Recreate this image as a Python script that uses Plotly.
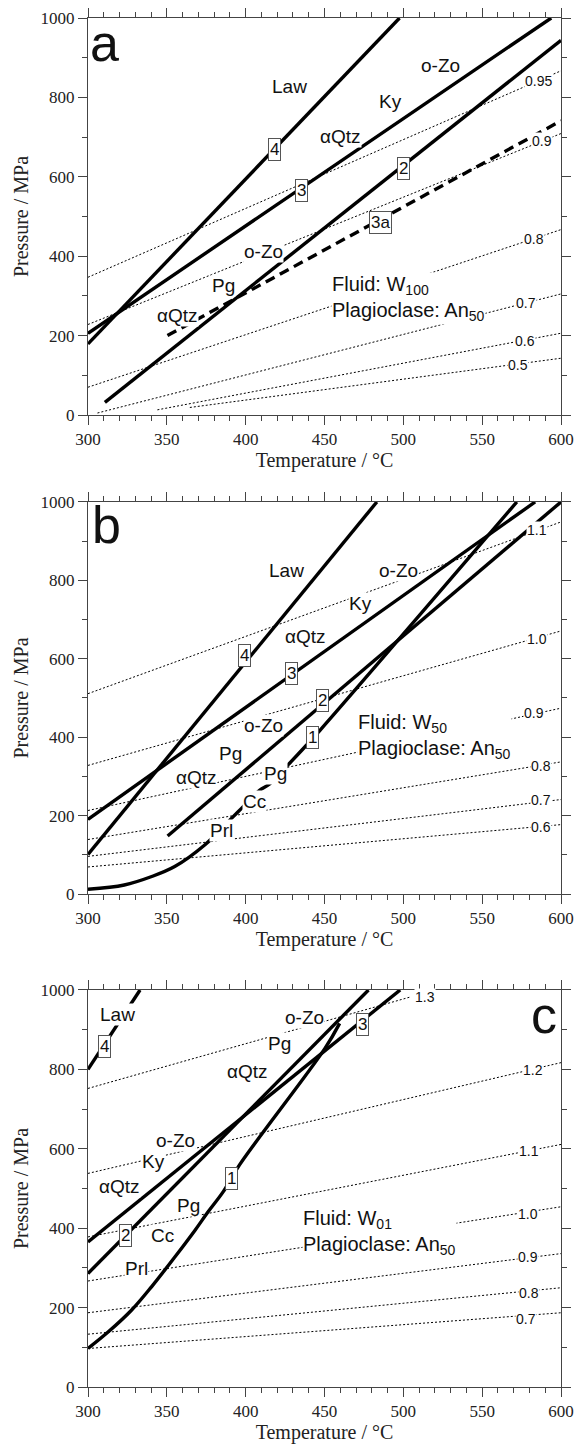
import plotly.graph_objects as go

# ---------------- Panel a (Fluid W100) ----------------
a_r4_T = [300, 497.6];  a_r4_P = [179, 1000]
a_r3_T = [300, 593.8];  a_r3_P = [206, 1000]
a_r2_T = [310.7, 600];  a_r2_P = [32, 944]
a_r3a_T = [350.4, 600]; a_r3a_P = [200, 741]
a_iso_vals = ["0.95", "0.9", "0.8", "0.7", "0.6", "0.5"]
a_iso_T0 = [300, 300, 300, 306, 344, 364.6]
a_iso_P0 = [347, 228, 70, 5, 13, 19]
a_iso_T1 = [600, 600, 600, 600, 600, 600]
a_iso_P1 = [867, 709, 467, 305, 206, 143]
a_iso_lab_T = [586, 588, 583, 578, 577, 573]
a_iso_lab_P = [842, 690, 443, 281, 186, 127]

# ---------------- Panel b (Fluid W50) ----------------
b_r4_T = [300, 483.2];  b_r4_P = [101, 1000]
b_r3_T = [300, 583.6];  b_r3_P = [190.5, 1000]
b_r2_T = [350.5, 600];  b_r2_P = [148, 1000]
b_r1_T = [300, 323, 340, 355, 374, 391, 397.5, 409, 415, 427, 437.5, 447, 572]
b_r1_P = [12, 23, 44, 70, 125, 193, 219, 265, 280, 330, 375, 417, 1000]
b_iso_vals = ["1.1", "1.0", "0.9", "0.8", "0.7", "0.6"]
b_iso_T0 = [300, 300, 300, 300, 300, 300]
b_iso_P0 = [511, 328, 213, 139, 96, 69]
b_iso_T1 = [600, 600, 600, 600, 600, 600]
b_iso_P1 = [949, 671, 474, 337, 241, 177]
b_iso_lab_T = [585, 585, 583, 587, 587, 587]
b_iso_lab_P = [928, 651, 462, 326, 239, 170]

# ---------------- Panel c (Fluid W01) ----------------
c_r4_T = [300, 333];    c_r4_P = [800, 1000]
c_r3_T = [300, 498];    c_r3_P = [365.5, 1000]
c_r2_T = [300, 477.9];  c_r2_P = [286, 1000]
c_r1_T = [300, 312.9, 327.7, 340.4, 355.2, 367.9, 376.3, 385.8, 396, 450.3, 459.6]
c_r1_P = [97, 139, 194, 253, 328, 395, 442, 492, 559, 853, 916]
c_iso_vals = ["1.3", "1.2", "1.1", "1.0", "0.9", "0.8", "0.7"]
c_iso_T0 = [300, 300, 300, 300, 300, 300, 300]
c_iso_P0 = [752, 538, 378, 267, 187, 133, 97]
c_iso_T1 = [505, 600, 600, 600, 600, 600, 600]
c_iso_P1 = [983, 817, 611, 454, 336, 250, 187]
c_iso_lab_T = [514, 582, 580, 579, 579, 580, 578]
c_iso_lab_P = [982, 798, 595, 437, 328, 237, 172]

# ---------------- Text labels (text, T, P) ----------------
a_labels = [("Law", 427.6, 828), ("o-Zo", 523.3, 881), ("Ky", 491.7, 789),
            ("αQtz", 460.3, 702), ("o-Zo", 411.4, 413), ("Pg", 386, 326),
            ("αQtz", 356.8, 251)]
a_boxes = [("4", 418, 669), ("3", 435.2, 566), ("2", 500, 621), ("3a", 485.7, 484)]
a_fluid = "Fluid: W<sub>100</sub><br>Plagioclase: An<sub>50</sub>"

b_labels = [("Law", 425.6, 826), ("o-Zo", 497, 826), ("Ky", 472.8, 741),
            ("αQtz", 438, 656), ("o-Zo", 411.3, 430), ("Pg", 390.3, 358),
            ("αQtz", 368.9, 296), ("Pg", 418.9, 307), ("Cc", 405.3, 235),
            ("Prl", 384.4, 162)]
b_boxes = [("4", 399.4, 609), ("3", 429.1, 562), ("2", 448.9, 494), ("1", 442.3, 400)]
b_fluid = "Fluid: W<sub>50</sub><br>Plagioclase: An<sub>50</sub>"

c_labels = [("Law", 319, 939), ("o-Zo", 437, 931), ("Pg", 421.4, 864),
            ("αQtz", 401.3, 794), ("o-Zo", 355.7, 620), ("Ky", 341.5, 567),
            ("αQtz", 319.7, 504), ("Pg", 364, 458), ("Cc", 347, 382),
            ("Prl", 330.8, 298)]
c_boxes = [("4", 310.2, 857), ("3", 474.3, 912), ("1", 390.8, 525), ("2", 323.7, 382)]
c_fluid = "Fluid: W<sub>01</sub><br>Plagioclase: An<sub>50</sub>"

fig = go.Figure()
SANS = "Liberation Sans"
SERIF = "Liberation Serif"
AX = "#444"


def line(T, P, n, dash="solid", width=3.4, shape="linear"):
    fig.add_trace(go.Scatter(x=T, y=P, mode="lines",
                             line=dict(color="black", width=width, dash=dash, shape=shape),
                             xaxis="x" + ("" if n == 1 else str(n)),
                             yaxis="y" + ("" if n == 1 else str(n)),
                             showlegend=False, hoverinfo="skip"))


def isolines(T0, P0, T1, P1, n):
    for i in range(len(T0)):
        line([T0[i], T1[i]], [P0[i], P1[i]], n, dash="2px,2px", width=1)


isolines(a_iso_T0, a_iso_P0, a_iso_T1, a_iso_P1, 1)
line(a_r4_T, a_r4_P, 1)
line(a_r3_T, a_r3_P, 1)
line(a_r2_T, a_r2_P, 1)
line(a_r3a_T, a_r3a_P, 1, dash="10px,6px")

isolines(b_iso_T0, b_iso_P0, b_iso_T1, b_iso_P1, 2)
line(b_r4_T, b_r4_P, 2)
line(b_r3_T, b_r3_P, 2)
line(b_r2_T, b_r2_P, 2)
line(b_r1_T, b_r1_P, 2, shape="spline")

isolines(c_iso_T0, c_iso_P0, c_iso_T1, c_iso_P1, 3)
line(c_r4_T, c_r4_P, 3)
line(c_r3_T, c_r3_P, 3)
line(c_r2_T, c_r2_P, 3)
line(c_r1_T, c_r1_P, 3, shape="spline")

annotations = []


def ref(n):
    return ("x" if n == 1 else "x%d" % n), ("y" if n == 1 else "y%d" % n)


def add_labels(labels, n, size=19):
    xr, yr = ref(n)
    for t, x, y in labels:
        annotations.append(dict(text=t, x=x, y=y, xref=xr, yref=yr, showarrow=False,
                                font=dict(family=SANS, size=size, color="#111"),
                                bgcolor="white", borderpad=0))


def add_boxes(boxes, n):
    xr, yr = ref(n)
    for t, x, y in boxes:
        annotations.append(dict(text=t, x=x, y=y, xref=xr, yref=yr, showarrow=False,
                                font=dict(family=SANS, size=17, color="#111"),
                                bgcolor="white", bordercolor="#555", borderwidth=1,
                                borderpad=1))


def add_iso_labels(vals, T, P, n):
    xr, yr = ref(n)
    for v, x, y in zip(vals, T, P):
        annotations.append(dict(text=v, x=x, y=y, xref=xr, yref=yr, showarrow=False,
                                font=dict(family=SANS, size=14, color="#111"),
                                bgcolor="white", borderpad=0))


def add_fluid(text, x, y, n):
    xr, yr = ref(n)
    annotations.append(dict(text=text, x=x, y=y, xref=xr, yref=yr, showarrow=False,
                            xanchor="left", align="left",
                            font=dict(family=SANS, size=20, color="#111"),
                            bgcolor="white", borderpad=0))


def add_letter(t, x, y, n):
    xr, yr = ref(n)
    annotations.append(dict(text=t, x=x, y=y, xref=xr, yref=yr, showarrow=False,
                            font=dict(family=SANS, size=52, color="#111")))


add_iso_labels(a_iso_vals, a_iso_lab_T, a_iso_lab_P, 1)
add_labels(a_labels, 1)
add_boxes(a_boxes, 1)
add_fluid(a_fluid, 454, 294, 1)
add_letter("a", 310.5, 938, 1)

add_iso_labels(b_iso_vals, b_iso_lab_T, b_iso_lab_P, 2)
add_labels(b_labels, 2)
add_boxes(b_boxes, 2)
add_fluid(b_fluid, 470.8, 402, 2)
add_letter("b", 311.5, 940, 2)

add_iso_labels(c_iso_vals, c_iso_lab_T, c_iso_lab_P, 3)
add_labels(c_labels, 3)
add_boxes(c_boxes, 3)
add_fluid(c_fluid, 436, 390, 3)
add_letter("c", 589, 937, 3)

xcommon = dict(range=[300, 600], tick0=300, dtick=50, ticks="outside", ticklen=9,
               tickwidth=1, tickcolor=AX, showline=True, linecolor=AX, linewidth=1,
               mirror="ticks", showgrid=False, zeroline=False, automargin=False,
               minor=dict(dtick=10, ticks="outside", ticklen=5, tickcolor=AX, showgrid=False),
               tickfont=dict(family=SERIF, size=17, color="#222"),
               title=dict(text="Temperature / °C", font=dict(family=SERIF, size=20, color="#222"),
                          standoff=4))
ycommon = dict(range=[0, 1000], tick0=0, dtick=200, ticks="outside", ticklen=9,
               tickwidth=1, tickcolor=AX, showline=True, linecolor=AX, linewidth=1,
               mirror="ticks", showgrid=False, zeroline=False, automargin=False,
               minor=dict(dtick=100, ticks="outside", ticklen=5, tickcolor=AX, showgrid=False),
               tickfont=dict(family=SERIF, size=17, color="#222"),
               title=dict(text="Pressure / MPa", font=dict(family=SERIF, size=20, color="#222"),
                          standoff=6))

# the page body adds an 8 px offset; the figure is sized so plot areas land in place
doms = [[0.710, 1.0], [0.3601, 0.6465], [0.0, 0.290]]
layout = dict(width=576, height=1441, margin=dict(l=80, r=23, t=10, b=62),
              template="none",
              plot_bgcolor="white", paper_bgcolor="white", annotations=annotations,
              showlegend=False)
for i, d in enumerate(doms, start=1):
    sx = "" if i == 1 else str(i)
    layout["xaxis" + sx] = dict(xcommon, domain=[0, 1], anchor="y" + sx)
    layout["yaxis" + sx] = dict(ycommon, domain=d, anchor="x" + sx)

fig.update_layout(**layout)
fig.write_html("out.html")
